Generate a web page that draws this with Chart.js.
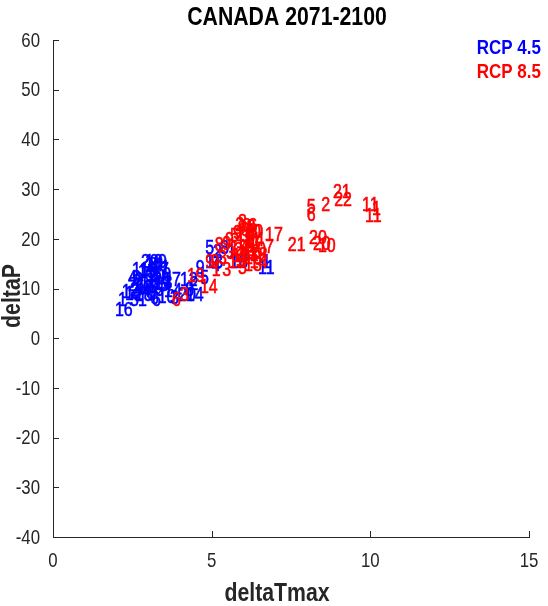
<!DOCTYPE html>
<html>
<head>
<meta charset="utf-8">
<script src="https://cdn.jsdelivr.net/npm/chart.js@4/dist/chart.umd.min.js"></script>
<style>
    html, body { margin: 0; padding: 0; background: #ffffff; }
    #wrap { width: 548px; height: 606px; position: relative; }
</style>
</head>
<body>
<div id="wrap"><canvas id="chart"></canvas></div>
<script>
const FONT = '"Liberation Sans", Arial, Helvetica, sans-serif';

// RCP 4.5 (blue) - model numbers drawn at (deltaTmax, deltaP)
const rcp45X = [1.95, 2.05, 2.17, 2.36, 2.5, 2.68, 2.9, 3.37, 3.06, 2.74, 3.0, 2.58, 3.06, 2.8, 3.2, 2.43,
    3.3, 3.5, 3.47, 2.9, 3.12, 3.69, 3.94, 4.16, 4.3, 4.0, 4.63, 4.5, 4.8, 4.8, 5.04, 5.26, 5.48, 5.0,
    5.58, 6.59, 6.46, 5.9, 4.19, 2.6, 2.95, 3.15,
    2.43, 2.58, 2.74, 3.0, 3.15, 2.84, 2.68, 2.96, 3.21, 3.37, 2.49, 2.36, 3.06, 2.9, 3.31, 2.27,
    2.62, 2.77, 3.44, 3.12];
const rcp45Y = [5.6, 7.6, 9.1, 10.7, 12.1, 13.3, 14.5, 13.7, 12.7, 11.3, 10.3, 8.5, 8.0, 9.3, 11.1, 7.6,
    8.2, 9.3, 11.7, 15.3, 14.1, 8.0, 8.5, 9.7, 10.9, 11.7, 12.1, 14.1, 15.3, 18.1, 17.3, 18.1, 17.3, 14.7,
    15.3, 15.3, 14.1, 16.1, 8.5, 10.5, 12.5, 10.9,
    9.7, 11.7, 13.7, 14.7, 12.7, 10.1, 7.6, 8.7, 9.7, 10.7, 13.7, 12.1, 11.3, 12.5, 15.3, 8.7,
    10.3, 15.3, 12.7, 7.6];
const rcp45Lbl = ['16', '1', '12', '2', '9', '15', '20', '7', '3', '11', '8', '18', '6', '4', '13', '5',
    '10', '14', '17', '19', '21', '3', '20', '8', '2', '12', '5', '9', '13', '5', '2', '8', '1', '4',
    '18', '1', '11', '7', '14', '6', '10', '19',
    '2', '9', '15', '8', '6', '0', '1', '0', '3', '5', '11', '4', '8', '6', '9', '12',
    '18', '20', '0', '6'];

// RCP 8.5 (red)
const rcp85X = [3.75, 4.0, 4.22, 4.63, 5.0, 4.8, 5.1, 5.42, 5.58, 5.33, 5.83, 5.52, 5.74, 5.9, 5.77,
    6.02, 5.9, 5.83, 6.02, 6.15, 5.64, 6.06, 6.2, 6.27, 6.68, 6.68, 7.4, 8.07, 8.19, 8.35, 8.0, 8.0,
    8.45, 8.82, 8.86, 9.74, 10.05, 9.83, 5.95, 6.1,
    5.67, 5.83, 5.96, 6.08, 5.77, 5.58, 6.15, 5.9, 6.08, 5.7, 6.2, 5.77, 6.02, 5.45, 6.27, 6.37,
    5.33, 5.2, 4.96];
const rcp85Y = [7.6, 8.5, 12.5, 10.3, 13.7, 15.3, 18.7, 19.7, 18.1, 13.7, 14.1, 15.3, 22.7, 21.7, 20.7,
    19.7, 18.3, 17.1, 16.1, 17.7, 16.5, 21.3, 15.3, 19.1, 20.7, 18.3, 18.7, 20.1, 18.9, 18.5, 26.4, 24.7,
    26.8, 29.4, 27.8, 26.8, 25.8, 24.5, 20.3, 22.3,
    21.1, 23.3, 22.5, 20.1, 19.3, 20.5, 22.5, 16.7, 18.5, 17.7, 16.7, 15.3, 14.7, 17.1, 21.3, 19.7,
    18.9, 16.1, 15.3];
const rcp85Lbl = ['6', '3', '19', '14', '1', '9', '8', '9', '12', '3', '5', '15', '2', '6', '16',
    '11', '4', '13', '18', '10', '19', '20', '14', '1', '17', '7', '21', '20', '20', '10', '5', '6',
    '2', '21', '22', '11', '1', '11', '3', '8',
    '9', '8', '0', '6', '12', '5', '6', '13', '9', '2', '18', '5', '13', '3', '0', '4',
    '9', '3', '9'];

const xTicks = [0, 5, 10, 15];
const yTicks = [-40, -30, -20, -10, 0, 10, 20, 30, 40, 50, 60];

function toPoints(xs, ys, lbls) {
    return xs.map((x, i) => ({ x: x, y: ys[i], lbl: lbls[i] }));
}

// horizontally squeezed text, like the narrow Helvetica of the original figure
function narrowText(ctx, str, x, y, sx, stroke) {
    ctx.save();
    ctx.translate(x, y);
    ctx.scale(sx, 1);
    ctx.fillText(str, 0, 0);
    if (stroke) ctx.strokeText(str, 0, 0);
    ctx.restore();
}

const textMarks = {
    id: 'textMarks',
    afterDatasetsDraw(chart) {
        const ctx = chart.ctx;
        ctx.save();
        ctx.font = '20px ' + FONT;
        ctx.textAlign = 'left';
        ctx.textBaseline = 'middle';
        ctx.lineWidth = 0.6;
        chart.data.datasets.forEach((ds, di) => {
            const meta = chart.getDatasetMeta(di);
            ctx.fillStyle = ds.borderColor;
            ctx.strokeStyle = ds.borderColor;
            meta.data.forEach((el, i) => {
                narrowText(ctx, ds.data[i].lbl, el.x, el.y, 0.8, true);
            });
        });
        ctx.restore();
    },
    afterDraw(chart) {
        const ctx = chart.ctx;
        const xs = chart.scales.x;
        const ys = chart.scales.y;
        const area = chart.chartArea;
        ctx.save();
        ctx.strokeStyle = '#262626';
        ctx.lineWidth = 1;
        ctx.beginPath();
        xTicks.forEach(v => {
            const px = Math.round(xs.getPixelForValue(v)) + 0.5;
            ctx.moveTo(px, area.bottom);
            ctx.lineTo(px, area.bottom - 6);
        });
        yTicks.forEach(v => {
            const py = Math.round(ys.getPixelForValue(v)) + 0.5;
            ctx.moveTo(area.left, py);
            ctx.lineTo(area.left + 6, py);
        });
        ctx.stroke();

        // tick labels
        ctx.fillStyle = '#262626';
        ctx.font = '21px ' + FONT;
        ctx.textBaseline = 'middle';
        ctx.textAlign = 'center';
        xTicks.forEach(v => {
            narrowText(ctx, String(v), xs.getPixelForValue(v), area.bottom + 24, 0.8);
        });
        ctx.textAlign = 'right';
        yTicks.forEach(v => {
            narrowText(ctx, String(v), area.left - 13, ys.getPixelForValue(v) + 1, 0.8);
        });

        ctx.fillStyle = '#000000';
        ctx.textAlign = 'center';
        ctx.font = 'bold 25px ' + FONT;
        narrowText(ctx, 'CANADA 2071-2100', 287, 18, 0.85);

        ctx.fillStyle = '#262626';
        ctx.font = 'bold 25px ' + FONT;
        narrowText(ctx, 'deltaTmax', 277, 594, 0.85);
        ctx.save();
        ctx.translate(13, 296);
        ctx.rotate(-Math.PI / 2);
        narrowText(ctx, 'deltaP', 0, 0, 0.85);
        ctx.restore();

        ctx.textAlign = 'right';
        ctx.font = 'bold 20px ' + FONT;
        chart.data.datasets.forEach((ds, di) => {
            ctx.fillStyle = ds.borderColor;
            narrowText(ctx, ds.label, 541, 48 + di * 24, 0.85);
        });
        ctx.restore();
    }
};

new Chart(document.getElementById('chart'), {
    type: 'scatter',
    data: {
        datasets: [
            { label: 'RCP 4.5', data: toPoints(rcp45X, rcp45Y, rcp45Lbl), borderColor: '#0000ff', backgroundColor: '#0000ff', pointRadius: 0 },
            { label: 'RCP 8.5', data: toPoints(rcp85X, rcp85Y, rcp85Lbl), borderColor: '#ff0000', backgroundColor: '#ff0000', pointRadius: 0 },
        ],
    },
    options: {
        responsive: true,
        maintainAspectRatio: false,
        animation: false,
        layout: { padding: { left: 0, top: 40, right: 19, bottom: 0 } },
        scales: {
            x: {
                type: 'linear',
                min: 0,
                max: 15,
                afterFit: scale => { scale.height = 69; },
                afterBuildTicks: scale => { scale.ticks = xTicks.map(v => ({ value: v })); },
                grid: { display: false, drawTicks: false },
                border: { display: true, color: '#262626', width: 1 },
                ticks: { display: false },
            },
            y: {
                type: 'linear',
                min: -40,
                max: 60,
                afterFit: scale => { scale.width = 53; },
                afterBuildTicks: scale => { scale.ticks = yTicks.map(v => ({ value: v })); },
                grid: { display: false, drawTicks: false },
                border: { display: true, color: '#262626', width: 1 },
                ticks: { display: false },
            },
        },
        plugins: {
            legend: { display: false },
            tooltip: { enabled: false },
            title: { display: false },
        },
    },
    plugins: [textMarks],
});
</script>
</body>
</html>
